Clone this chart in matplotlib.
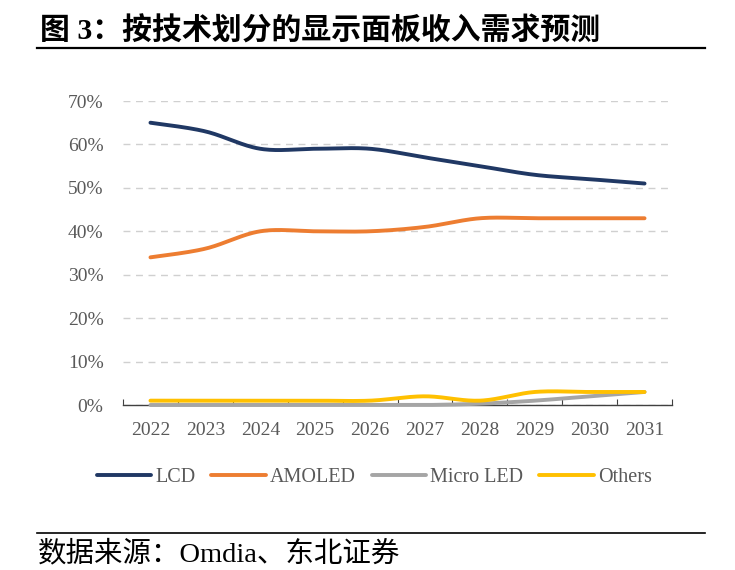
import numpy as np
import matplotlib
matplotlib.use("Agg")
import matplotlib.pyplot as plt
from matplotlib.lines import Line2D

years = ["2022", "2023", "2024", "2025", "2026", "2027", "2028", "2029", "2030", "2031"]
lcd = [65, 63, 59, 59, 59, 57, 55, 53, 52, 51]
amoled = [34, 36, 40, 40, 40, 41, 43, 43, 43, 43]
micro_led = [0, 0, 0, 0, 0, 0, 0.3, 1, 2, 3]
others = [1, 1, 1, 1, 1, 2, 1, 3, 3, 3]
series_names = ["LCD", "AMOLED", "Micro LED", "Others"]
colors = ["#203864", "#ED7D31", "#A5A5A5", "#FFC000"]
yticks = [0, 10, 20, 30, 40, 50, 60, 70]

def smooth(x, y, n=30):
    x = np.asarray(x, float); y = np.asarray(y, float)
    pts = np.column_stack([x, y])
    out = []
    for i in range(len(pts) - 1):
        p0 = pts[i - 1] if i > 0 else pts[i]
        p1 = pts[i]; p2 = pts[i + 1]
        p3 = pts[i + 2] if i + 2 < len(pts) else pts[i + 1]
        c1 = p1 + (p2 - p0) / 6.0
        c2 = p2 - (p3 - p1) / 6.0
        t = np.linspace(0, 1, n)[:, None]
        seg = ((1 - t) ** 3) * p1 + 3 * ((1 - t) ** 2) * t * c1 + 3 * (1 - t) * t ** 2 * c2 + t ** 3 * p2
        out.append(seg if i == 0 else seg[1:])
    s = np.vstack(out)
    return s[:, 0], s[:, 1]

W, H = 735, 570
fig = plt.figure(figsize=(W / 100, H / 100), dpi=100)
ax = fig.add_axes([123 / W, (H - 405) / H, (672 - 123) / W, (405 - 101) / H])

x = np.arange(len(years))
for vals, c in zip([lcd, amoled, micro_led, others], colors):
    sx, sy = smooth(x, np.array(vals) / 100.0)
    ax.plot(sx, sy, color=c, lw=2.8, solid_capstyle="round", zorder=3, clip_on=False)

ax.set_xlim(-0.5, len(years) - 0.5)
ax.set_ylim(0, 0.70)
ax.set_yticks([v / 100 for v in yticks])
ax.set_yticklabels([f"{v}%" for v in yticks])
ax.yaxis.grid(True, color="#D0D0D0", linestyle=(0, (5, 4)), lw=1)
ax.set_axisbelow(True)
for s in ["top", "right", "left"]:
    ax.spines[s].set_visible(False)
ax.spines["bottom"].set_color("#404040")
ax.spines["bottom"].set_linewidth(1.0)
ax.tick_params(axis="y", length=0, pad=14, labelsize=14, labelcolor="#595959")
ax.set_xticks(np.arange(-0.5, len(years), 1.0))
ax.set_xticklabels([])
ax.set_xticks(x, minor=True)
ax.set_xticklabels(years, minor=True)
ax.tick_params(axis="x", which="major", direction="in", length=4, color="#404040")
ax.tick_params(axis="x", which="minor", length=0, pad=12, labelsize=14, labelcolor="#595959")
for lab in ax.get_xticklabels(minor=True) + ax.get_yticklabels():
    lab.set_fontfamily("Liberation Serif")

handles = [Line2D([0], [0], color=c, lw=2.8, solid_capstyle="round") for c in colors]
leg = fig.legend(handles, series_names, loc="center", bbox_to_anchor=(0.509, 1 - 477 / H), ncol=4,
                 frameon=False, handlelength=2.7, handletextpad=0.2, columnspacing=0.8,
                 prop={"family": "Liberation Serif", "size": 14.5})
for t in leg.get_texts():
    t.set_color("#595959")

fig.text(40 / W, 1 - 31 / H, "图 3：按技术划分的显示面板收入需求预测", fontsize=21.5, fontweight="bold",
         family=["Liberation Serif", "Noto Sans CJK SC"], va="center", ha="left", color="black")
fig.add_artist(Line2D([37 / W, 705 / W], [1 - 48 / H, 1 - 48 / H], color="black", lw=1.6))
fig.add_artist(Line2D([37 / W, 705 / W], [1 - 533 / H, 1 - 533 / H], color="black", lw=1.2))
fig.text(38 / W, 1 - 554 / H, "数据来源：Omdia、东北证券", fontsize=20.5,
         family=["Liberation Serif", "Noto Sans CJK SC"], va="center", ha="left", color="black")

fig.savefig("out.png", dpi=100)
